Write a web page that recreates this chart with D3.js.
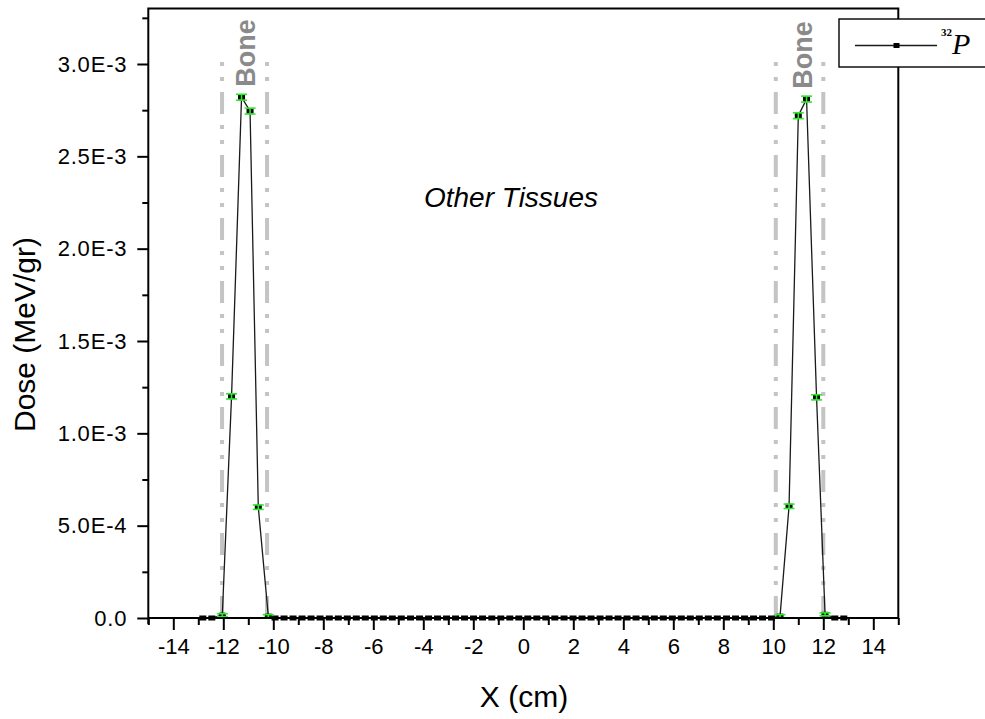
<!DOCTYPE html>
<html>
<head>
<meta charset="utf-8">
<script src="https://cdn.jsdelivr.net/npm/d3@7"></script>
<style>
  html, body { margin: 0; padding: 0; background: #fff; }
  svg { display: block; font-family: "Liberation Sans", Arial, sans-serif; }
</style>
</head>
<body>
<svg id="chart" width="985" height="719"></svg>
<script>
// Dose profile across the phantom (X in cm), ^32P source
const positions = [
  -12.82, -12.46, -12.04, -11.67, -11.27, -10.93, -10.60, -10.20,
  -9.93, -9.57, -9.21, -8.85, -8.49, -8.13, -7.76, -7.40, -7.04, -6.68,
  -6.32, -5.96, -5.60, -5.24, -4.88, -4.51, -4.15, -3.79, -3.43, -3.07,
  -2.71, -2.35, -1.99, -1.63, -1.26, -0.90, -0.54, -0.18,
  0.18, 0.54, 0.90, 1.26, 1.63, 1.99, 2.35, 2.71, 3.07, 3.43, 3.79, 4.15,
  4.51, 4.88, 5.24, 5.60, 5.96, 6.32, 6.68, 7.04, 7.40, 7.76, 8.13, 8.49,
  8.85, 9.21, 9.57, 9.93,
  10.27, 10.63, 11.00, 11.33, 11.73, 12.07, 12.46, 12.82
];
const doses = [
  0, 0, 1.5e-5, 1.2e-3, 2.82e-3, 2.745e-3, 6.0e-4, 1.0e-5,
  0, 0, 0, 0, 0, 0, 0, 0, 0, 0,
  0, 0, 0, 0, 0, 0, 0, 0, 0, 0,
  0, 0, 0, 0, 0, 0, 0, 0,
  0, 0, 0, 0, 0, 0, 0, 0, 0, 0, 0, 0,
  0, 0, 0, 0, 0, 0, 0, 0, 0, 0, 0, 0,
  0, 0, 0, 0,
  1.0e-5, 6.05e-4, 2.72e-3, 2.81e-3, 1.195e-3, 2.0e-5, 0, 0
];
const doseErrors = [
  0, 0, 0.8e-5, 1.4e-5, 1.6e-5, 1.6e-5, 1.2e-5, 0.8e-5,
  0, 0, 0, 0, 0, 0, 0, 0, 0, 0,
  0, 0, 0, 0, 0, 0, 0, 0, 0, 0,
  0, 0, 0, 0, 0, 0, 0, 0,
  0, 0, 0, 0, 0, 0, 0, 0, 0, 0, 0, 0,
  0, 0, 0, 0, 0, 0, 0, 0, 0, 0, 0, 0,
  0, 0, 0, 0,
  0.8e-5, 1.2e-5, 1.6e-5, 1.6e-5, 1.4e-5, 0.8e-5, 0, 0
];

// Bone region boundaries (cm) and label baselines (cm)
const boneEdges = [-12.05, -10.25, 10.1, 12.0];
const boneLabelX = [-10.73, 11.53];

// Axis ticks
const xMajorTicks = [-14, -12, -10, -8, -6, -4, -2, 0, 2, 4, 6, 8, 10, 12, 14];
const xMinorTicks = [-15, -13, -11, -9, -7, -5, -3, -1, 1, 3, 5, 7, 9, 11, 13, 15];
const yMajorTicks = [0, 5e-4, 1e-3, 1.5e-3, 2e-3, 2.5e-3, 3e-3];
const yTickLabels = ["0.0", "5.0E-4", "1.0E-3", "1.5E-3", "2.0E-3", "2.5E-3", "3.0E-3"];
const yMinorTicks = [2.5e-4, 7.5e-4, 1.25e-3, 1.75e-3, 2.25e-3, 2.75e-3, 3.25e-3];

const data = positions.map((x, i) => ({ x, y: doses[i], e: doseErrors[i] }));

const svg = d3.select("#chart");
const plot = { left: 148.3, right: 898.3, top: 8.6, bottom: 618 };

const x = d3.scaleLinear().domain([-15, 15]).range([plot.left, plot.right]);
const y = d3.scaleLinear().domain([0, 3.3e-3]).range([plot.bottom, plot.top]);

// Bone boundary lines (dash-dot-dot)
svg.append("g").selectAll("line").data(boneEdges).join("line")
  .attr("x1", d => x(d)).attr("x2", d => x(d))
  .attr("y1", 59).attr("y2", 621)
  .attr("stroke", "#c4c4c4").attr("stroke-width", 4)
  .attr("stroke-dasharray", "22,11,4,11,4,11")
  .attr("stroke-dashoffset", 30);

// Bone labels (rotated, baseline on the right)
svg.append("g").selectAll("text").data(boneLabelX).join("text")
  .attr("transform", (d, i) => `translate(${x(d)},${i === 0 ? 53 : 55}) rotate(-90)`)
  .attr("text-anchor", "middle")
  .attr("font-size", 27).attr("font-weight", "bold")
  .attr("fill", "#8a8a8a")
  .text("Bone");

// Annotation for soft tissue region
svg.append("text")
  .attr("x", 511).attr("y", 207)
  .attr("text-anchor", "middle")
  .attr("font-size", 28).attr("font-style", "italic")
  .attr("fill", "#000")
  .text("Other Tissues");

// Series line
const line = d3.line().x(d => x(d.x)).y(d => y(d.y));
svg.append("path").datum(data)
  .attr("d", line)
  .attr("fill", "none").attr("stroke", "#1a1a1a").attr("stroke-width", 1.3);

// Markers
svg.append("g").selectAll("rect").data(data).join("rect")
  .attr("x", d => x(d.x) - 3.5).attr("y", d => y(d.y) - 2.5)
  .attr("width", 7).attr("height", 5)
  .attr("fill", "#000");

// Error bars
const eb = svg.append("g").attr("stroke", "#2ee82e").attr("stroke-width", 1.6);
const withErr = data.filter(d => d.e > 0);
eb.selectAll("line.v").data(withErr).join("line").attr("class", "v")
  .attr("x1", d => x(d.x)).attr("x2", d => x(d.x))
  .attr("y1", d => y(d.y + d.e)).attr("y2", d => y(d.y - d.e));
eb.selectAll("line.top").data(withErr).join("line").attr("class", "top")
  .attr("x1", d => x(d.x) - 5.5).attr("x2", d => x(d.x) + 5.5)
  .attr("y1", d => y(d.y + d.e)).attr("y2", d => y(d.y + d.e));
eb.selectAll("line.bot").data(withErr).join("line").attr("class", "bot")
  .attr("x1", d => x(d.x) - 5.5).attr("x2", d => x(d.x) + 5.5)
  .attr("y1", d => y(d.y - d.e)).attr("y2", d => y(d.y - d.e));

// Axes
const axisStyle = g => {
  g.select(".domain").remove();
  g.selectAll(".tick line").attr("stroke", "#000").attr("stroke-width", 2);
  g.selectAll(".tick text").attr("fill", "#000")
    .style("font-family", "'Liberation Sans', Arial, sans-serif");
};

svg.append("g")
  .attr("transform", `translate(0,${plot.bottom})`)
  .call(d3.axisBottom(x).tickValues(xMinorTicks).tickSize(7).tickFormat(""))
  .call(axisStyle);

svg.append("g")
  .attr("transform", `translate(0,${plot.bottom})`)
  .call(d3.axisBottom(x).tickValues(xMajorTicks).tickSize(12).tickPadding(8)
    .tickFormat(d => String(d).replace("\u2212", "-")))
  .call(axisStyle)
  .call(g => g.selectAll(".tick text").attr("font-size", 22).attr("dy", "0.71em"));

svg.append("g")
  .attr("transform", `translate(${plot.left},0)`)
  .call(d3.axisLeft(y).tickValues(yMinorTicks).tickSize(6).tickFormat(""))
  .call(axisStyle);

svg.append("g")
  .attr("transform", `translate(${plot.left},0)`)
  .call(d3.axisLeft(y).tickValues(yMajorTicks).tickSize(11).tickPadding(10)
    .tickFormat((d, i) => yTickLabels[i]))
  .call(axisStyle)
  .call(g => g.selectAll(".tick text").attr("font-size", 22).attr("letter-spacing", 0.8));

// Frame
svg.append("path")
  .attr("d", `M${plot.left},${plot.bottom + 6}V${plot.top}H${plot.right}V${plot.bottom}H${plot.left}`)
  .attr("fill", "none").attr("stroke", "#000").attr("stroke-width", 2);

// Axis titles
svg.append("text")
  .attr("transform", "translate(35,334.5) rotate(-90)")
  .attr("text-anchor", "middle")
  .attr("font-size", 30).attr("fill", "#000")
  .text("Dose (MeV/gr)");

svg.append("text")
  .attr("x", 524).attr("y", 707)
  .attr("text-anchor", "middle")
  .attr("font-size", 30).attr("fill", "#000")
  .text("X (cm)");

// Legend
const legend = svg.append("g");
legend.append("rect")
  .attr("x", 839).attr("y", 19).attr("width", 150).attr("height", 48)
  .attr("fill", "#fff").attr("stroke", "#000").attr("stroke-width", 1.4);
legend.append("line")
  .attr("x1", 855).attr("x2", 937).attr("y1", 45.5).attr("y2", 45.5)
  .attr("stroke", "#1a1a1a").attr("stroke-width", 1.3);
legend.append("rect")
  .attr("x", 893.5).attr("y", 43).attr("width", 6).attr("height", 5)
  .attr("fill", "#000");
legend.append("text")
  .attr("x", 941).attr("y", 36)
  .style("font-family", "'Liberation Serif', 'Times New Roman', serif")
  .attr("font-size", 11).attr("font-weight", "bold").attr("fill", "#000")
  .text("32");
legend.append("text")
  .attr("x", 952).attr("y", 54)
  .style("font-family", "'Liberation Serif', 'Times New Roman', serif")
  .attr("font-size", 30).attr("font-style", "italic").attr("fill", "#000")
  .text("P");
</script>
</body>
</html>
